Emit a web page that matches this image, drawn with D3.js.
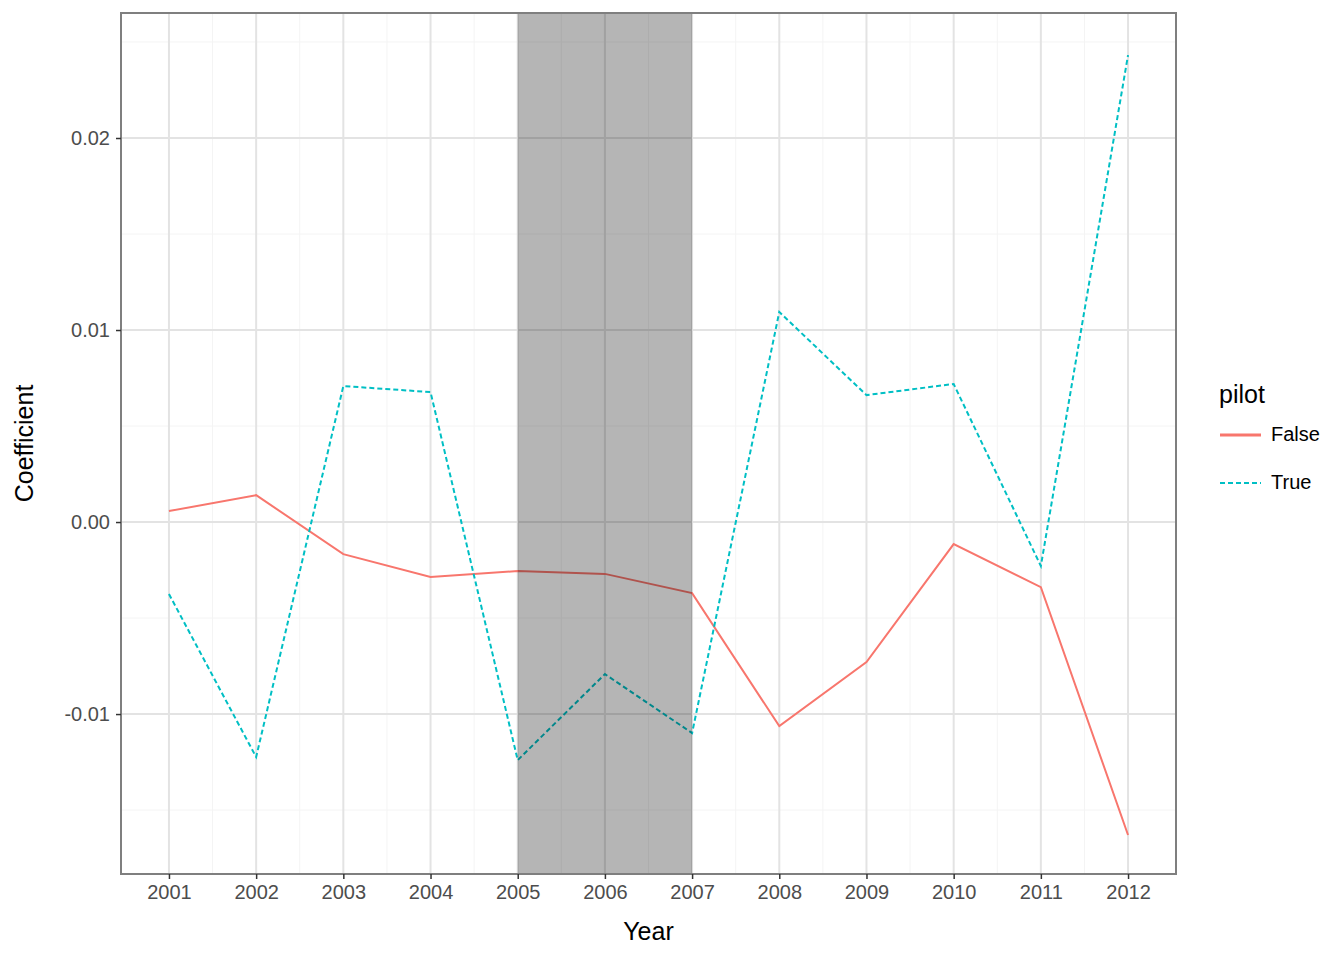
<!DOCTYPE html><html><head><meta charset="utf-8">
<script src="https://cdn.jsdelivr.net/npm/d3@7"></script>
<style>body{margin:0;background:#fff}text{font-family:"Liberation Sans",Arial,sans-serif}</style></head><body>
<svg id="c" width="1344" height="960"></svg>
<script>
const years=[2001,2002,2003,2004,2005,2006,2007,2008,2009,2010,2011,2012];
const falseVals=[0.00057,0.0014,-0.00167,-0.00286,-0.00255,-0.0027,-0.0037,-0.01063,-0.00729,-0.00115,-0.00339,-0.0163];
const trueVals=[-0.00375,-0.01224,0.00708,0.00677,-0.0124,-0.00792,-0.01099,0.01094,0.00661,0.00719,-0.00229,0.02432];
const yTicks=[-0.01,0,0.01,0.02];
const yTickLabels=["-0.01","0.00","0.01","0.02"];
const shade=[2005,2007];
const L=121,R=1176,T=13,B=874;
const svg=d3.select("#c");
const x=d3.scaleLinear().domain([2000.45,2012.55]).range([L,R]);
const y=d3.scaleLinear().domain([-0.01833,0.02651]).range([B,T]);
const g=svg.append("g");
const yMinor=[-0.015,-0.005,0.005,0.015,0.025];
g.selectAll(".ym").data(yMinor).join("line").attr("x1",L).attr("x2",R).attr("y1",d=>y(d)).attr("y2",d=>y(d)).attr("stroke","#f4f4f4").attr("stroke-width",1);
g.selectAll(".xm").data(years.slice(0,-1)).join("line").attr("x1",d=>x(d+0.5)).attr("x2",d=>x(d+0.5)).attr("y1",T).attr("y2",B).attr("stroke","#f4f4f4").attr("stroke-width",1);
g.selectAll(".yg").data(yTicks).join("line").attr("x1",L).attr("x2",R).attr("y1",d=>y(d)).attr("y2",d=>y(d)).attr("stroke","#e3e3e3").attr("stroke-width",2);
g.selectAll(".xg").data(years).join("line").attr("x1",d=>x(d)).attr("x2",d=>x(d)).attr("y1",T).attr("y2",B).attr("stroke","#e3e3e3").attr("stroke-width",2);
const line=d3.line().x((d,i)=>x(years[i])).y(d=>y(d));
g.append("path").datum(falseVals).attr("d",line).attr("fill","none").attr("stroke","#F8766D").attr("stroke-width",2);
g.append("path").datum(trueVals).attr("d",line).attr("fill","none").attr("stroke","#00BFC4").attr("stroke-width",2).attr("stroke-dasharray","5,3");
g.append("rect").attr("x",x(shade[0])).attr("width",x(shade[1])-x(shade[0])).attr("y",T).attr("height",B-T).attr("fill","#000").attr("opacity",0.29);
g.append("rect").attr("x",L).attr("y",T).attr("width",R-L).attr("height",B-T).attr("fill","none").attr("stroke","#7f7f7f").attr("stroke-width",2);
const xa=svg.append("g").attr("transform",`translate(0,${B})`).call(d3.axisBottom(x).tickValues(years).tickFormat(d3.format("d")).tickSize(5).tickPadding(6));
const ya=svg.append("g").attr("transform",`translate(${L},0)`).call(d3.axisLeft(y).tickValues(yTicks).tickFormat((d,i)=>yTickLabels[i]).tickSize(5).tickPadding(6));
[xa,ya].forEach(a=>{a.select(".domain").remove();a.selectAll("line").attr("stroke","#333").attr("stroke-width",1.5);a.selectAll("text").attr("fill","#4d4d4d").style("font-size","20px");});
svg.append("text").attr("x",(L+R)/2).attr("y",940).attr("text-anchor","middle").style("font-size","25px").text("Year");
svg.append("text").attr("transform",`translate(33,${(T+B)/2}) rotate(-90)`).attr("text-anchor","middle").style("font-size","25px").text("Coefficient");
svg.append("text").attr("x",1219).attr("y",403).style("font-size","25px").text("pilot");
svg.append("line").attr("x1",1220).attr("x2",1261).attr("y1",435).attr("y2",435).attr("stroke","#F8766D").attr("stroke-width",3);
svg.append("line").attr("x1",1220).attr("x2",1261).attr("y1",483).attr("y2",483).attr("stroke","#00BFC4").attr("stroke-width",2).attr("stroke-dasharray","5,3");
svg.append("text").attr("x",1271).attr("y",441).style("font-size","20px").text("False");
svg.append("text").attr("x",1271).attr("y",489).style("font-size","20px").text("True");
</script></body></html>
